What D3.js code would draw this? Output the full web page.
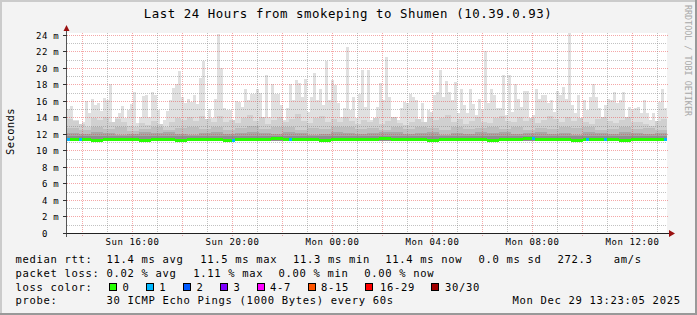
<!DOCTYPE html>
<html><head><meta charset="utf-8">
<script src="https://cdn.jsdelivr.net/npm/d3@7"></script>
<style>
html,body{margin:0;padding:0;background:#f3f3f3;}
svg{display:block;}
text{font-family:"DejaVu Sans Mono",monospace;white-space:pre;fill:#000;}
</style></head><body>
<svg id="c" width="697" height="315"></svg>
<script>
// ---------------- data ----------------
const title = "Last 24 Hours from smokeping to Shumen (10.39.0.93)";
const yAxisTitle = "Seconds";
const sideText = "RRDTOOL / TOBI OETIKER";
const yTickValues = [0,2,4,6,8,10,12,14,16,18,20,22,24];
const yTickNumbers = ["0","2","4","6","8","10","12","14","16","18","20","22","24"];
const yTickUnits = ["","m","m","m","m","m","m","m","m","m","m","m","m"];
const xLabelFormat = "%a %H:%M";
const rangeStart = new Date(2025, 11, 28, 13, 24, 48);
const rangeEnd = new Date(2025, 11, 29, 13, 24, 48);
const yMax = 24.24;

// smoke: highest ping per column (200 columns)
const smokeMax = [
15.0,15.4,13.7,13.7,12.8,13.4,16.0,14.5,16.2,15.5,
15.7,14.8,16.4,16.1,18.0,13.2,14.0,14.5,15.4,13.9,
14.9,15.6,17.1,13.3,14.0,16.6,16.7,14.1,17.1,16.7,
14.9,12.8,13.7,14.8,16.1,17.6,18.1,19.6,16.5,15.7,
16.3,15.9,16.7,15.6,18.8,20.8,13.7,15.0,13.9,16.3,
24.1,20.0,15.1,14.9,14.9,12.8,16.0,15.9,15.3,17.4,
16.1,16.8,16.8,17.4,17.0,13.7,19.2,14.1,18.1,16.9,
16.9,15.5,13.7,15.2,18.0,16.1,18.5,18.2,16.5,18.7,
14.7,16.5,19.4,16.1,17.5,15.5,20.8,16.1,18.5,17.9,
15.7,14.1,15.1,22.6,14.9,16.5,13.9,16.9,19.8,15.3,
19.8,13.7,13.5,15.3,18.2,16.1,21.3,16.5,14.1,14.1,
13.7,15.1,15.9,15.7,16.9,16.5,16.1,13.7,15.7,13.3,
14.9,14.7,16.7,17.1,19.8,16.5,18.4,17.1,16.1,18.3,
14.5,17.4,15.5,14.5,17.5,15.6,14.3,16.3,14.9,22.1,
15.7,17.5,16.7,15.2,15.2,19.2,14.3,19.2,14.7,18.1,
16.3,15.3,17.2,17.2,13.5,14.3,17.4,16.3,16.7,16.7,
15.7,16.1,14.7,17.2,16.7,17.7,16.3,24.2,15.5,14.5,
16.7,13.3,16.1,14.9,16.5,18.1,16.5,15.1,13.7,15.5,
16.3,16.1,17.1,15.7,16.1,17.1,14.1,15.3,14.9,15.1,
15.3,14.5,16.1,14.5,13.7,14.5,13.2,15.9,17.5,15.1];

// smoke: upper band (100 columns)
const smokeUpper = [
13.8,13.6,13.2,12.9,13.9,13.7,14.1,13.5,13.8,13.4,13.0,12.9,13.3,13.1,13.6,13.2,12.8,13.4,13.9,13.7,14.0,13.6,14.2,13.8,13.5,
14.2,13.4,13.7,13.3,13.9,14.3,13.6,14.0,13.2,13.7,14.1,13.5,13.8,14.4,13.6,13.3,13.9,14.2,13.4,13.8,13.5,14.0,13.6,13.2,13.7,
13.5,13.9,13.2,13.6,14.0,13.3,13.1,13.4,13.8,13.5,14.1,13.7,13.9,14.3,13.4,13.8,13.2,13.6,14.0,13.5,13.3,13.9,14.2,13.6,13.4,
14.0,13.6,13.9,13.3,13.7,14.2,13.8,13.4,14.1,13.6,13.9,13.5,13.2,13.8,14.0,13.6,13.3,13.7,14.1,13.5,13.4,13.2,13.0,13.6,13.8];

// smoke: middle band (50 columns)
const smokeMiddle = [
12.7,12.5,12.8,12.6,12.9,12.4,12.6,12.8,12.5,12.7,
12.9,12.6,12.8,12.5,12.7,13.0,12.6,12.8,12.9,12.5,
12.7,12.6,12.8,12.9,12.6,12.7,12.5,12.8,12.6,12.9,
12.7,12.5,12.8,12.6,12.7,12.9,12.6,12.8,12.5,12.7,
12.6,12.9,12.7,12.8,12.5,12.6,12.8,12.6,12.7,12.5];

// smoke: lower band (50 columns)
const smokeLower = [
12.1,12.0,12.2,12.1,11.9,12.0,12.2,12.1,12.3,12.0,
11.9,12.1,12.2,12.0,12.1,12.3,12.1,12.0,12.2,12.1,
11.9,12.0,12.2,12.1,12.0,12.1,12.3,12.2,12.0,12.1,
12.2,11.9,12.1,12.0,12.2,12.1,12.3,12.0,12.1,12.2,
12.0,12.1,11.9,12.2,12.1,12.0,12.2,12.1,12.0,12.1];

// smoke: innermost band (25 columns)
const smokeInner = [
11.8,11.7,11.8,11.8,11.7,11.8,11.7,11.8,11.8,11.7,11.8,11.8,11.7,
11.8,11.7,11.8,11.8,11.7,11.8,11.7,11.8,11.8,11.7,11.8,11.7];

// smoke: lowest ping (50 columns)
const smokeMin = [
11.2,11.2,11.2,11.1,11.2,11.2,11.2,11.2,11.1,11.2,
11.2,11.2,11.2,11.2,11.1,11.2,11.2,11.2,11.2,11.2,
11.2,11.1,11.2,11.2,11.2,11.2,11.2,11.2,11.1,11.2,
11.2,11.2,11.2,11.2,11.2,11.1,11.2,11.2,11.2,11.2,
11.2,11.2,11.1,11.2,11.2,11.2,11.2,11.2,11.2,11.2];

// median rtt (50 columns)
const medianRtt = [
11.4,11.4,11.3,11.4,11.4,11.4,11.3,11.4,11.4,11.3,
11.4,11.4,11.4,11.3,11.4,11.4,11.4,11.5,11.4,11.4,
11.4,11.3,11.4,11.4,11.4,11.4,11.5,11.4,11.4,11.4,
11.3,11.4,11.4,11.4,11.4,11.3,11.4,11.4,11.5,11.4,
11.4,11.4,11.3,11.4,11.4,11.4,11.3,11.4,11.4,11.4];

// packet loss events (column index out of 200, lost pings)
const lossColumn = [0, 4, 55, 74, 155, 173, 179, 199];
const lossCount  = [1, 1, 1, 1, 1, 1, 1, 1];

// legend
const rttValues = ["11.4","11.5","11.3","11.4","0.0"];
const rttKinds  = ["ms avg","ms max","ms min","ms now","ms sd"];
const amsValue  = "272.3";
const amsUnit   = "am/s";
const lossValues = ["0.02","1.11","0.00","0.00"];
const lossKinds  = ["% avg","% max","% min","% now"];
const lossColorLabels = ["0","1","2","3","4-7","8-15","16-29","30/30"];
const lossColorThresh = [0,1,2,3,4,8,16,30];
const lossColors = ["#26ff00","#00b8ff","#0059ff","#7e00ff","#ff00ff","#ff5500","#ff0000","#a00000"];
const probeText = "30 ICMP Echo Pings (1000 Bytes) every 60s";
const stampText = "Mon Dec 29 13:23:05 2025";

// ---------------- drawing ----------------
const svg = d3.select("#c");
const PL = 67, PR = 667, PT = 33, PB = 233;
const x = d3.scaleTime().domain([rangeStart, rangeEnd]).range([PL, PR]);
const y = d3.scaleLinear().domain([0, yMax]).range([PB, PT]);
const span = rangeEnd - rangeStart;

svg.append("rect").attr("width",697).attr("height",315).attr("fill","#f3f3f3");
svg.append("rect").attr("x",PL).attr("y",PT).attr("width",PR-PL).attr("height",PB-PT).attr("fill","#fff");

const colX = (i, n) => Math.round(x(new Date(+rangeStart + i * span / n)));
const pick = (arr, i, n) => arr[Math.min(arr.length - 1, Math.floor(i * arr.length / n))];

function layer(vals, color) {
  const n = vals.length;
  svg.append("g").selectAll("rect").data(vals).join("rect")
    .attr("x", (d,i) => colX(i,n))
    .attr("width", (d,i) => colX(i+1,n) - colX(i,n))
    .attr("y", d => Math.round(y(d)))
    .attr("height", (d,i) => Math.max(0, Math.round(y(pick(smokeMin,i,n))) - Math.round(y(d))))
    .attr("fill", color)
    .attr("shape-rendering","crispEdges");
}
layer(smokeMax, "#e0e0e0");
layer(smokeUpper, "#d0d0d0");
layer(smokeMiddle, "#bebebe");
layer(smokeLower, "#a8a8a8");
layer(smokeInner, "#8e8e8e");

// grid
const grid = svg.append("g").attr("shape-rendering","crispEdges");
const minorY = d3.range(1, 25, 2);
grid.selectAll(".gy").data(minorY).join("line")
  .attr("x1",PL).attr("x2",PR)
  .attr("y1",d=>Math.round(y(d))+0.5).attr("y2",d=>Math.round(y(d))+0.5)
  .attr("stroke","rgba(120,120,120,0.45)").attr("stroke-dasharray","1,1");
grid.selectAll(".gY").data(yTickValues.slice(1)).join("line")
  .attr("x1",PL).attr("x2",PR+2)
  .attr("y1",d=>Math.round(y(d))+0.5).attr("y2",d=>Math.round(y(d))+0.5)
  .attr("stroke","rgba(230,60,60,0.45)").attr("stroke-dasharray","1,1");
const hours = d3.timeHour.range(rangeStart, rangeEnd);
const majorH = hours.filter(h => h.getHours() % 2 === 0);
const minorH = hours.filter(h => h.getHours() % 2 === 1);
grid.selectAll(".gx").data(minorH).join("line")
  .attr("x1",d=>Math.round(x(d))+0.5).attr("x2",d=>Math.round(x(d))+0.5)
  .attr("y1",PT).attr("y2",PB)
  .attr("stroke","rgba(120,120,120,0.45)").attr("stroke-dasharray","1,1");
grid.selectAll(".gX").data(majorH).join("line")
  .attr("x1",d=>Math.round(x(d))+0.5).attr("x2",d=>Math.round(x(d))+0.5)
  .attr("y1",PT).attr("y2",PB+3)
  .attr("stroke","rgba(230,60,60,0.45)").attr("stroke-dasharray","1,1");

// median line, coloured by loss
const nMed = 200;
const medCols = d3.range(nMed);
function lossColorFor(i) {
  const k = lossColumn.indexOf(i);
  const n = k < 0 ? 0 : lossCount[k];
  let c = lossColors[0];
  lossColorThresh.forEach((t,j) => { if (n >= t) c = lossColors[j]; });
  return c;
}
svg.append("g").selectAll("rect").data(medCols).join("rect")
  .attr("x", i => colX(i,nMed))
  .attr("width", i => colX(i+1,nMed) - colX(i,nMed))
  .attr("y", i => Math.round(y(pick(medianRtt,i,nMed))) - 1)
  .attr("height", 3)
  .attr("fill", i => lossColorFor(i))
  .attr("shape-rendering","crispEdges");

// axes
const ax = svg.append("g").attr("shape-rendering","crispEdges");
ax.append("line").attr("x1",63).attr("x2",669).attr("y1",PB+0.5).attr("y2",PB+0.5).attr("stroke","#222");
ax.append("line").attr("x1",PL-0.5).attr("x2",PL-0.5).attr("y1",PB+4).attr("y2",30).attr("stroke","#555");
ax.selectAll(".yt").data(yTickValues).join("line")
  .attr("x1",63).attr("x2",PL).attr("y1",d=>Math.round(y(d))+0.5).attr("y2",d=>Math.round(y(d))+0.5)
  .attr("stroke","#333");
svg.append("path").attr("d","M669,230 L675,233.5 L669,237 Z").attr("fill","#9a1010");
svg.append("path").attr("d","M63.5,31 L66.5,25 L69.5,31 Z").attr("fill","#9a1010");

// y labels
const yl = svg.append("g").style("font-size","9px").style("letter-spacing","0.6px");
yl.selectAll(".n").data(yTickValues).join("text")
  .attr("x",48).attr("y",d=>Math.round(y(d))+3.5).attr("text-anchor","end")
  .text((d,i)=>yTickNumbers[i]);
yl.selectAll(".u").data(yTickValues).join("text")
  .attr("x",53.3).attr("y",d=>Math.round(y(d))+3.5)
  .text((d,i)=>yTickUnits[i]);

// x labels
const fmt = d3.timeFormat(xLabelFormat);
const labelH = hours.filter(h => h.getHours() % 4 === 0);
svg.append("g").style("font-size","9px").style("letter-spacing","0.6px")
  .selectAll("text").data(labelH).join("text")
  .attr("x",d=>x(d)+0.8).attr("y",245).attr("text-anchor","middle")
  .text(d=>fmt(d));

// titles
svg.append("text").attr("x",348).attr("y",18.3).attr("text-anchor","middle")
  .style("font-size","12.4px").style("letter-spacing","0.55px").text(title);
svg.append("text").attr("transform","translate(14.3,131.5) rotate(-90)").attr("text-anchor","middle")
  .style("font-size","10.5px").style("letter-spacing","0.4px").text(yAxisTitle);
svg.append("text").attr("x",0).attr("y",0)
  .attr("transform","translate(684.5,5) rotate(90)")
  .attr("textLength",111).attr("lengthAdjust","spacing")
  .style("font-size","8.4px").style("fill","#a8a8a8").text(sideText);

// legend
const lg = svg.append("g").style("font-size","10.5px").style("letter-spacing","0.68px");
const L1 = 263, L2 = 276.8, L3 = 290.6, L4 = 304.4;
lg.append("text").attr("x",15.5).attr("y",L1).text("median rtt:");
const rttX = [106.5, 200.3, 293, 385.3, 478.6];
rttValues.forEach((v,i)=> lg.append("text").attr("x",rttX[i]).attr("y",L1).text(v+" "+rttKinds[i]));
lg.append("text").attr("x",557.6).attr("y",L1).text(amsValue);
lg.append("text").attr("x",613.8).attr("y",L1).text(amsUnit);
lg.append("text").attr("x",15.5).attr("y",L2).text("packet loss:");
const lossX = [106.6, 193.3, 278.6, 364.3];
lossValues.forEach((v,i)=> lg.append("text").attr("x",lossX[i]).attr("y",L2).text(v+" "+lossKinds[i]));
lg.append("text").attr("x",15.5).attr("y",L3).text("loss color:");
const boxX = [108.5,145.5,182.5,219.5,256.5,307.5,365,430.5];
const boxLX = [122.6,159.3,196.6,233.6,270,321,380,445];
lossColorLabels.forEach((l,i)=>{
  svg.append("rect").attr("x",boxX[i]+0.5).attr("y",283.5).attr("width",7).attr("height",7)
    .attr("fill",lossColors[i]).attr("stroke","#000").attr("stroke-width",1).attr("shape-rendering","crispEdges");
  lg.append("text").attr("x",boxLX[i]).attr("y",L3).text(l);
});
lg.append("text").attr("x",15.5).attr("y",L4).text("probe:");
lg.append("text").attr("x",106.6).attr("y",L4).text(probeText);
lg.append("text").attr("x",512.6).attr("y",L4).text(stampText);

// 3d frame
svg.append("rect").attr("x",0).attr("y",0).attr("width",697).attr("height",2).attr("fill","#cbcbcb");
svg.append("rect").attr("x",0).attr("y",0).attr("width",2).attr("height",315).attr("fill","#cbcbcb");
svg.append("rect").attr("x",0).attr("y",313).attr("width",697).attr("height",2).attr("fill","#999");
svg.append("rect").attr("x",695).attr("y",0).attr("width",2).attr("height",315).attr("fill","#999");
</script>
</body></html>
